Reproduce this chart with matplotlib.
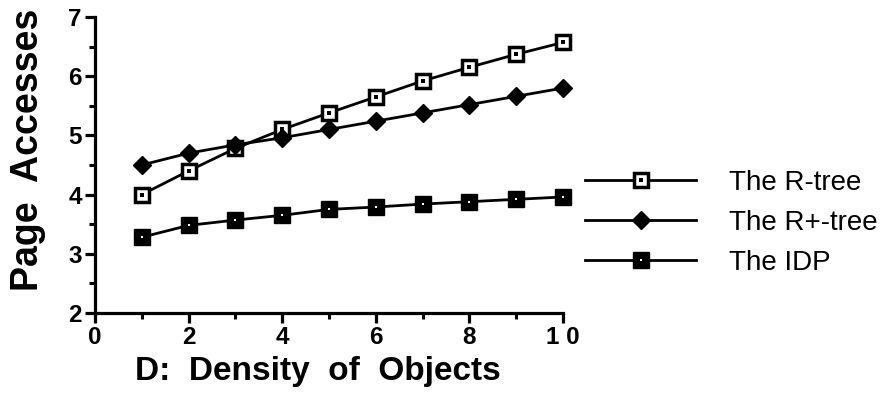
import matplotlib
matplotlib.use("Agg")
import matplotlib.pyplot as plt
from matplotlib.ticker import MultipleLocator

plt.rcParams["font.family"] = ["Liberation Sans", "DejaVu Sans"]

density = [1, 2, 3, 4, 5, 6, 7, 8, 9, 10]
rtree = [4.00, 4.40, 4.78, 5.10, 5.38, 5.65, 5.92, 6.15, 6.37, 6.57]
rplus = [4.50, 4.70, 4.84, 4.96, 5.10, 5.24, 5.38, 5.52, 5.66, 5.80]
idp = [3.28, 3.48, 3.57, 3.65, 3.75, 3.79, 3.84, 3.88, 3.92, 3.96]

x_ticks = [0, 2, 4, 6, 8, 10]
x_ticklabels = ["0", "2", "4", "6", "8", "1 0"]
y_ticks = [2, 3, 4, 5, 6, 7]

fig = plt.figure(figsize=(8.86, 4.05), dpi=100)
ax = fig.add_axes([95 / 886, 1 - 313 / 405, (563 - 95) / 886, (313 - 17) / 405])

lw = 2.0
# R-tree: open square with dot
l1, = ax.plot(density, rtree, color="black", lw=lw, marker="s", ms=10,
              mfc="white", mec="black", mew=2.5, zorder=3, clip_on=False)
d1, = ax.plot(density, rtree, ls="none", marker="s", ms=2.4, mew=0,
              color="black", zorder=4, clip_on=False)
# R+-tree: filled diamond
l2, = ax.plot(density, rplus, color="black", lw=lw, marker="D", ms=9,
              mfc="black", mec="black", zorder=3, clip_on=False)
# IDP: filled square with white dot
l3, = ax.plot(density, idp, color="black", lw=lw, marker="s", ms=11,
              mfc="black", mec="black", zorder=3, clip_on=False)
d3, = ax.plot(density, idp, ls="none", marker="s", ms=1.8, mew=0,
              color="white", zorder=4, clip_on=False)

ax.set_xlim(0, 10)
ax.set_ylim(2, 7)
ax.set_xticks(x_ticks)
ax.set_xticklabels(x_ticklabels)
ax.set_yticks(y_ticks)
ax.xaxis.set_minor_locator(MultipleLocator(1))
ax.yaxis.set_minor_locator(MultipleLocator(0.5))

for side in ["top", "right"]:
    ax.spines[side].set_visible(False)
for side in ["left", "bottom"]:
    ax.spines[side].set_linewidth(2.3)

ax.tick_params(which="major", direction="out", length=7.5, width=2.3,
               labelsize=17.5, pad=2)
ax.tick_params(which="minor", direction="out", length=4, width=2.2)
for lab in ax.get_xticklabels() + ax.get_yticklabels():
    lab.set_fontweight("bold")

ax.set_xlabel("D:  Density  of  Objects", fontsize=24, fontweight="bold")
ax.set_ylabel("Page  Accesses", fontsize=27, fontweight="bold")
ax.xaxis.set_label_coords(0.476, -0.145)
ax.yaxis.set_label_coords(-0.105, 0.55)

fig.legend([(l1, d1), (l2,), (l3, d3)], ["The R-tree", "The R+-tree", "The IDP"],
           loc="center left", bbox_to_anchor=(585 / 886, 1 - 223 / 405),
           frameon=False, fontsize=20, handlelength=4.0, handletextpad=1.2,
           labelspacing=0.5, borderaxespad=0, borderpad=0)

fig.savefig("out.png", dpi=100)
